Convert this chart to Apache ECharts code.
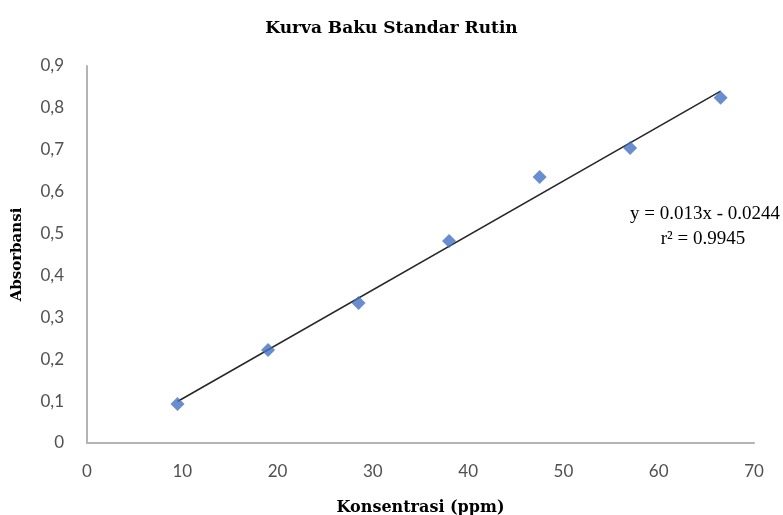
<!DOCTYPE html>
<html>
<head>
<meta charset="utf-8">
<script src="https://cdn.jsdelivr.net/npm/echarts@6/dist/echarts.min.js"></script>
<style>
  html, body { margin: 0; padding: 0; background: #fff; }
  #chart { width: 783px; height: 515px; }
</style>
</head>
<body>
<div id="chart"></div>
<script>
// konsentrasi (ppm) dan absorbansi yang dibaca dari gambar
const konsentrasi = [9.5, 19, 28.5, 38, 47.5, 57, 66.5];
const absorbansi = [0.093, 0.222, 0.334, 0.482, 0.635, 0.704, 0.824];

// garis trend: y = 0.013x - 0.0244
const slope = 0.013;
const intercept = -0.0244;
const equationText = ["y = 0.013x - 0.0244", "r\u00b2 = 0.9945"];

const xMin = Math.min(...konsentrasi);
const xMax = Math.max(...konsentrasi);
const trend = [
  [xMin, slope * xMin + intercept],
  [xMax, slope * xMax + intercept],
];

const chart = echarts.init(document.getElementById("chart"));
const serif = "'DejaVu Serif', 'Liberation Serif', serif";
const sans = "Lato, 'Liberation Sans', sans-serif";

const option = {
  animation: false,
  title: {
    text: "Kurva Baku Standar Rutin",
    left: "center",
    top: 15,
    textStyle: { fontFamily: serif, fontWeight: "bold", fontSize: 17, color: "#000" },
  },
  grid: { left: 87, right: 29, top: 66, bottom: 72, containLabel: false, outerBoundsMode: "none" },
  xAxis: {
    type: "value",
    min: 0,
    max: 70,
    interval: 10,
    name: "Konsentrasi (ppm)",
    nameLocation: "middle",
    nameGap: 57,
    nameTextStyle: { fontFamily: serif, fontWeight: "bold", fontSize: 16, color: "#000" },
    axisLine: { lineStyle: { color: "#b4b4b4", width: 2 } },
    axisTick: { show: false },
    splitLine: { show: false },
    axisLabel: { fontFamily: sans, fontSize: 17, color: "#505050", margin: 20 },
  },
  yAxis: {
    type: "value",
    min: 0,
    max: 0.9,
    interval: 0.1,
    name: "Absorbansi",
    nameLocation: "middle",
    nameGap: 62,
    nameTextStyle: { fontFamily: serif, fontWeight: "bold", fontSize: 15, color: "#000" },
    axisLine: { show: true, lineStyle: { color: "#b4b4b4", width: 2 } },
    axisTick: { show: false },
    splitLine: { show: false },
    axisLabel: {
      fontFamily: sans,
      fontSize: 17,
      color: "#505050",
      margin: 23,
      formatter: (v) => (v === 0 ? "0" : v.toFixed(1).replace(".", ",")),
    },
  },
  series: [
    {
      type: "line",
      data: trend,
      symbol: "none",
      lineStyle: { color: "#262626", width: 1.5 },
      z: 1,
    },
    {
      type: "scatter",
      data: konsentrasi.map((x, i) => [x, absorbansi[i]]),
      symbol: "diamond",
      symbolSize: 14,
      itemStyle: { color: "#4472c4" },
      z: 2,
    },
  ],
  graphic: [
    {
      type: "text",
      x: 705,
      y: 214,
      style: {
        text: equationText[0],
        font: "19px 'Liberation Serif', serif",
        fill: "#000",
        textAlign: "center",
        textVerticalAlign: "middle",
      },
    },
    {
      type: "text",
      x: 703,
      y: 239,
      style: {
        text: equationText[1],
        font: "19px 'Liberation Serif', serif",
        fill: "#000",
        textAlign: "center",
        textVerticalAlign: "middle",
      },
    },
  ],
};

chart.setOption(option);
</script>
</body>
</html>
